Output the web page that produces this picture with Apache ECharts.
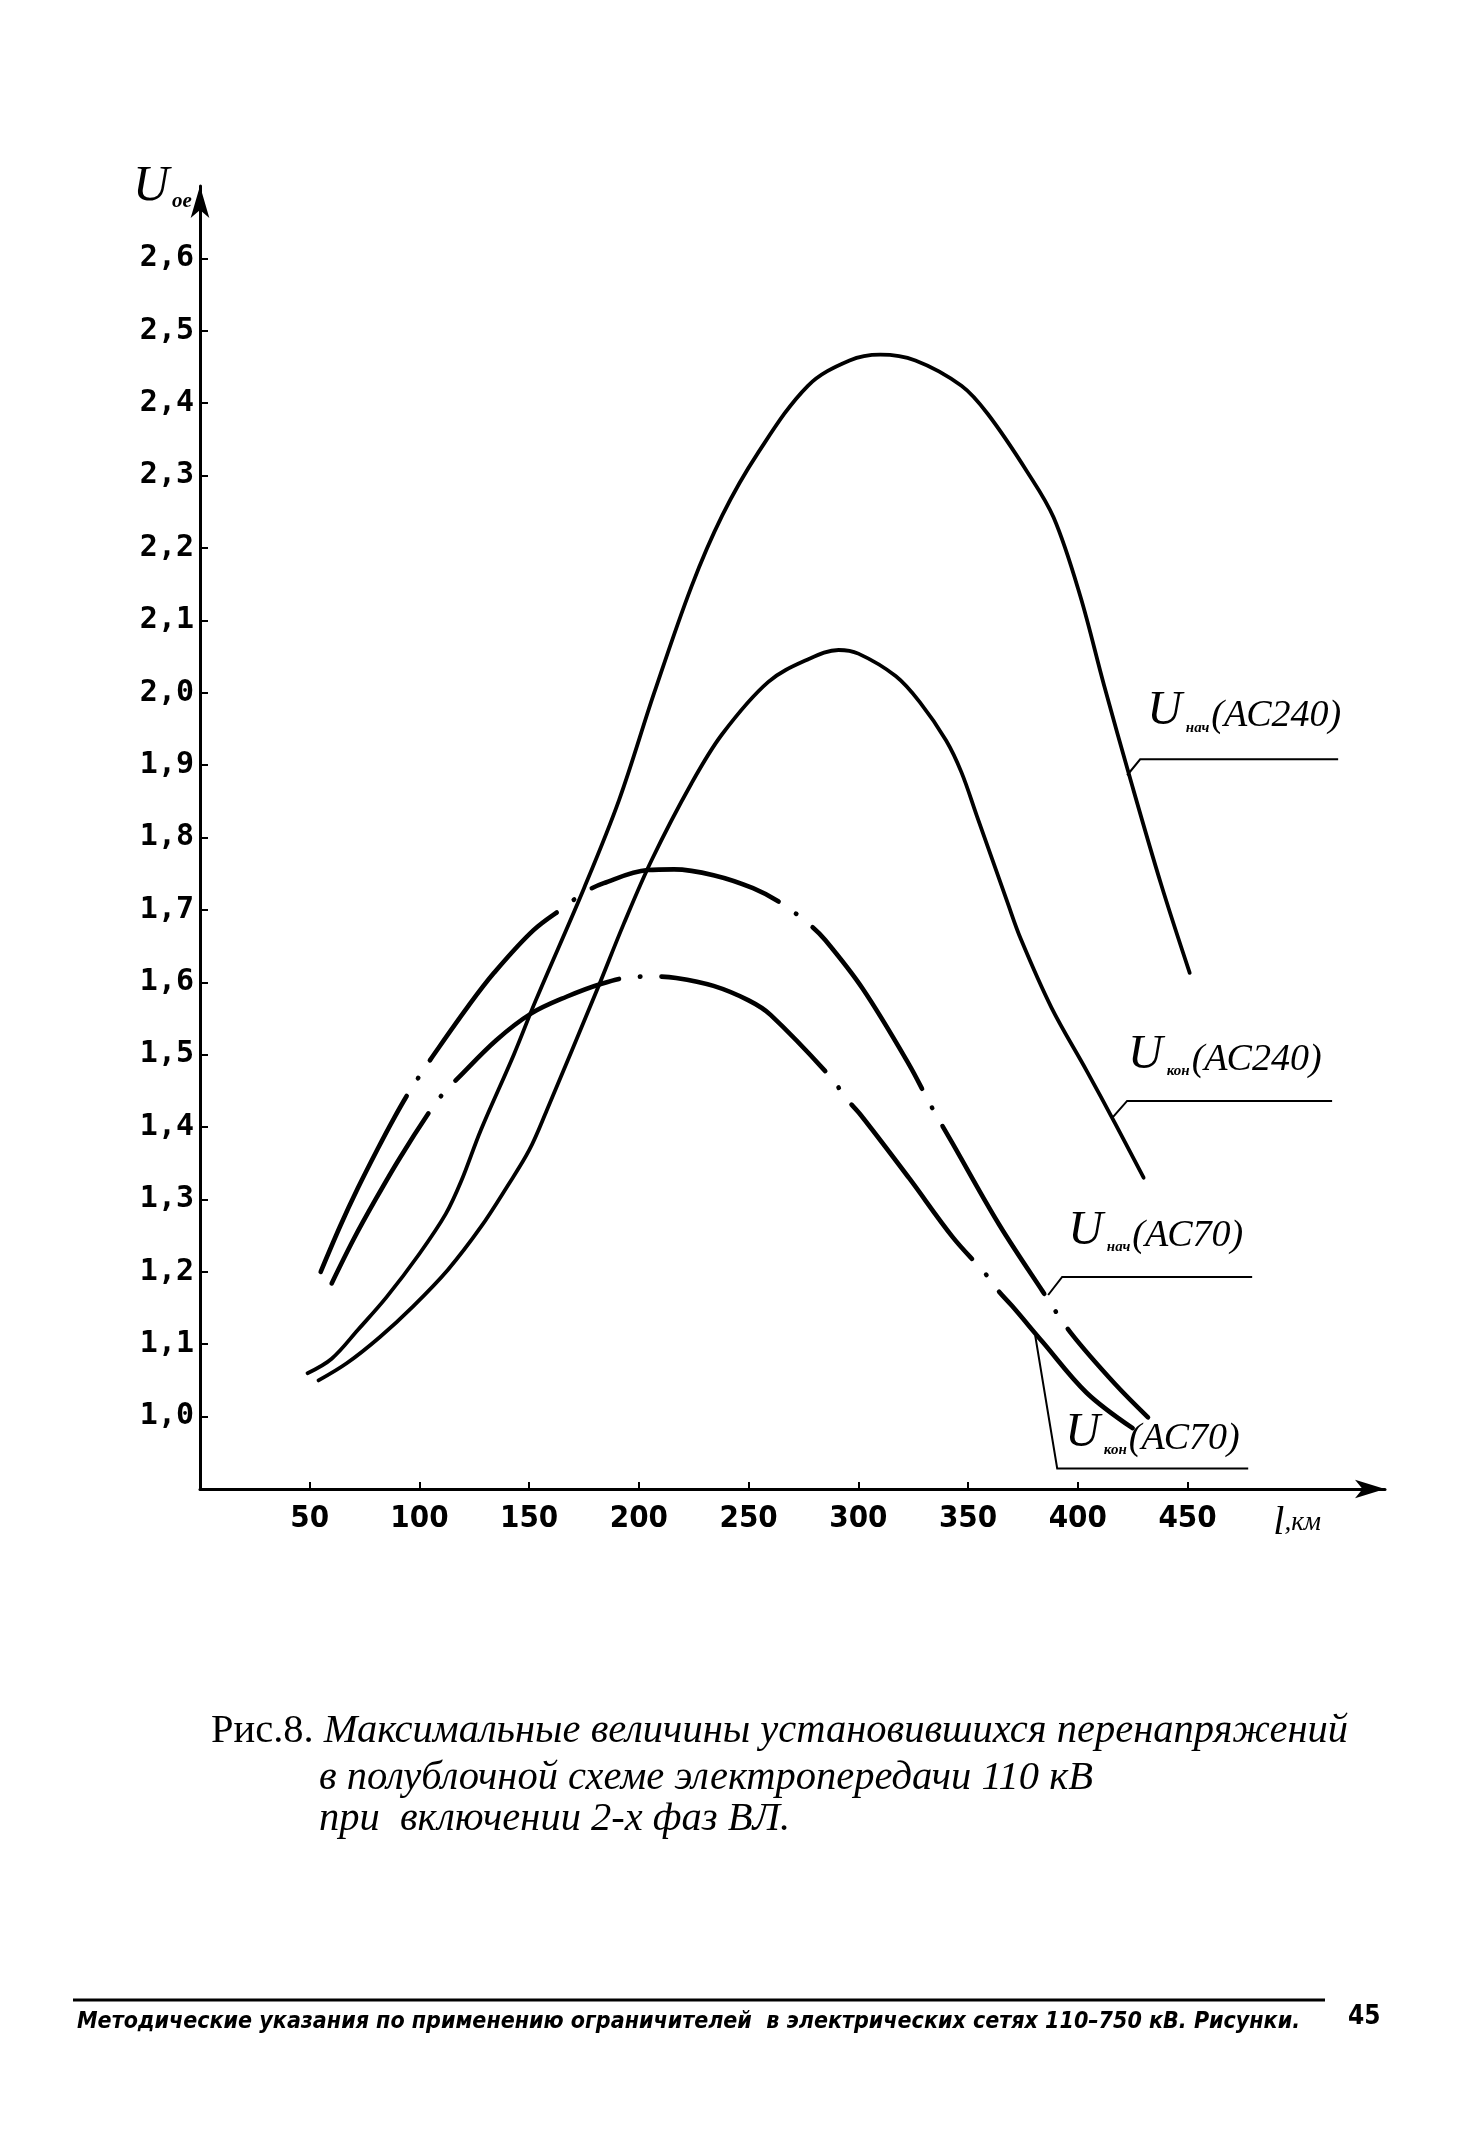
<!DOCTYPE html>
<html><head><meta charset="utf-8">
<script src="https://cdn.jsdelivr.net/npm/echarts@6/dist/echarts.min.js"></script>
<style>html,body{margin:0;padding:0;background:#fff}#c{width:1480px;height:2146px}</style>
</head><body><div id="c"></div>
<script>
// ---- data ----
const xTickValues = [50, 100, 150, 200, 250, 300, 350, 400, 450];
const xNameValue = 500;
const yTickValues = [1.0, 1.1, 1.2, 1.3, 1.4, 1.5, 1.6, 1.7, 1.8, 1.9, 2.0, 2.1, 2.2, 2.3, 2.4, 2.5, 2.6];

const kmNachAC240 = [49, 60, 72, 85, 100, 112, 119, 128, 143, 153, 175, 191, 207, 224, 238, 254, 277, 296, 310, 326, 347, 359, 377, 389, 401, 412, 424, 438, 451];
const uNachAC240  = [1.06, 1.08, 1.12, 1.165, 1.225, 1.28, 1.325, 1.396, 1.50, 1.575, 1.73, 1.852, 2.0, 2.147, 2.245, 2.33, 2.424, 2.459, 2.467, 2.459, 2.424, 2.385, 2.305, 2.242, 2.135, 2.01, 1.88, 1.735, 1.613];

const kmKonAC240 = [54, 67, 82, 97, 113, 128, 140, 150, 158, 181, 193, 206, 224, 238, 259, 277, 291, 300, 317, 328, 340, 347, 354, 368, 374, 388, 404, 417, 430];
const uKonAC240  = [1.05, 1.074, 1.11, 1.152, 1.203, 1.262, 1.318, 1.368, 1.423, 1.59, 1.68, 1.77, 1.875, 1.943, 2.015, 2.046, 2.059, 2.054, 2.023, 1.987, 1.934, 1.89, 1.83, 1.71, 1.66, 1.565, 1.478, 1.405, 1.33];

const kmNachAC70 = [55, 64, 72, 81, 88, 95, 101, 107, 122, 134, 152, 167, 175, 184, 204, 216, 234, 252, 265, 278, 285, 302, 323, 333, 343, 364, 384, 397, 417, 432];
const uNachAC70  = [1.20, 1.264, 1.316, 1.370, 1.41, 1.447, 1.475, 1.502, 1.566, 1.613, 1.672, 1.706, 1.724, 1.737, 1.755, 1.756, 1.748, 1.73, 1.709, 1.679, 1.658, 1.591, 1.487, 1.43, 1.377, 1.266, 1.173, 1.115, 1.045, 0.999];

const kmKonAC70 = [60, 70, 80, 91, 105, 111, 118, 135, 151, 167, 183, 196, 206, 217, 234, 250, 260, 288, 294, 301, 323, 343, 358, 364, 370, 384, 404, 425];
const uKonAC70  = [1.184, 1.245, 1.30, 1.357, 1.423, 1.447, 1.469, 1.52, 1.557, 1.58, 1.598, 1.607, 1.608, 1.606, 1.595, 1.575, 1.555, 1.467, 1.441, 1.417, 1.33, 1.248, 1.197, 1.173, 1.153, 1.103, 1.033, 0.984];

const seriesNames = ['нач(АС240)', 'кон(АС240)', 'нач(АС70)', 'кон(АС70)'];
// anchor points on each curve where the label leader starts [km, U]
const leaderAnchors = [[422.5, 1.886], [416.1, 1.414], [386.5, 1.168], [380.6, 1.112]];

// ---- chart ----
const pair = (xs, ys) => xs.map((x, i) => [x, ys[i]]);
const chart = echarts.init(document.getElementById('c'), null, {renderer: 'canvas'});
const serif = '"Liberation Serif", "Times New Roman", serif';
const narrow = '"Liberation Sans Narrow", "DejaVu Sans Condensed", "DejaVu Sans", sans-serif';
const dashDot = [196, 21, 0.5, 21];

function lineSeries(name, data, width, dashed) {
  return {
    name, type: 'line', data, smooth: 0.35, symbol: 'none', silent: true,
    lineStyle: {color: '#000', width, type: dashed ? dashDot : 'solid', cap: 'round', join: 'round'}
  };
}

chart.setOption({
  animation: false,
  backgroundColor: '#fff',
  grid: {left: 200, right: 95, top: 186, bottom: 657, containLabel: false},
  xAxis: {
    type: 'value', min: 0, max: 540,
    splitLine: {show: false},
    axisLine: {show: true, lineStyle: {color: '#000', width: 3}, symbol: ['none', 'arrow'], symbolSize: [14, 30]},
    axisTick: {show: true, inside: true, length: 7, lineStyle: {color: '#000', width: 2}, customValues: xTickValues},
    axisLabel: {
      customValues: xTickValues.concat([xNameValue]), margin: 14,
      color: '#000', fontFamily: narrow, fontWeight: 'bold', fontSize: 31,
      formatter: v => v === xNameValue ? '{l|l}{k|,км}' : String(v),
      rich: {
        l: {fontFamily: serif, fontStyle: 'italic', fontWeight: 'normal', fontSize: 40, color: '#000'},
        k: {fontFamily: serif, fontStyle: 'italic', fontWeight: 'normal', fontSize: 27, color: '#000'}
      }
    }
  },
  yAxis: {
    type: 'value', min: 0.9, max: 2.7,
    splitLine: {show: false},
    axisLine: {show: true, lineStyle: {color: '#000', width: 3}, symbol: ['none', 'arrow'], symbolSize: [14, 32]},
    axisTick: {show: true, inside: true, length: 8, lineStyle: {color: '#000', width: 2}, customValues: yTickValues},
    axisLabel: {
      customValues: yTickValues, margin: 6,
      color: '#000', fontFamily: '"DejaVu Sans Mono", monospace', fontWeight: 'bold', fontSize: 30,
      formatter: v => v.toFixed(1).replace('.', ',')
    }
  },
  series: [
    lineSeries(seriesNames[0], pair(kmNachAC240, uNachAC240), 3.8, false),
    lineSeries(seriesNames[1], pair(kmKonAC240, uKonAC240), 3.8, false),
    lineSeries(seriesNames[2], pair(kmNachAC70, uNachAC70), 4.6, true),
    lineSeries(seriesNames[3], pair(kmKonAC70, uKonAC70), 4.6, true)
  ]
});

// ---- annotations ----
const annoLayout = [
  {corner: [13, -16], endDx: 211, text: [20, -40]},
  {corner: [14, -16], endDx: 219, text: [15, -38]},
  {corner: [14, -18], endDx: 204, text: [20, -40]},
  {corner: [22, 133], endDx: 213, text: [30, 122]}
];
const richLbl = {
  u: {fontFamily: serif, fontStyle: 'italic', fontSize: 48, color: '#000', verticalAlign: 'bottom', lineHeight: 48},
  s: {fontFamily: serif, fontStyle: 'italic', fontWeight: 'bold', fontSize: 15, color: '#000', verticalAlign: 'bottom', lineHeight: 48, padding: [0, 2, 0, 4]},
  p: {fontFamily: serif, fontStyle: 'italic', fontSize: 38, color: '#000', verticalAlign: 'bottom', lineHeight: 48}
};
const graphics = [];
leaderAnchors.forEach((a, i) => {
  const p = chart.convertToPixel({gridIndex: 0}, a);
  const L = annoLayout[i];
  const c = [p[0] + L.corner[0], p[1] + L.corner[1]];
  graphics.push({type: 'polyline', silent: true,
    shape: {points: [p, c, [p[0] + L.endDx, c[1]]]},
    style: {stroke: '#000', lineWidth: 2, fill: null}});
  const nm = seriesNames[i];
  const k = nm.indexOf('(');
  graphics.push({type: 'text', silent: true, x: p[0] + L.text[0], y: p[1] + L.text[1],
    style: {text: '{u|U}{s|' + nm.slice(0, k) + '}{p|' + nm.slice(k) + '}', rich: richLbl, align: 'left', verticalAlign: 'bottom'}});
});
// y axis name
graphics.push({type: 'text', silent: true, x: 133, y: 212,
  style: {text: '{u|U}{s|oe}', align: 'left', verticalAlign: 'bottom',
    rich: {u: {fontFamily: serif, fontStyle: 'italic', fontSize: 50, color: '#000', verticalAlign: 'bottom', lineHeight: 50},
           s: {fontFamily: serif, fontStyle: 'italic', fontWeight: 'bold', fontSize: 21, color: '#000', verticalAlign: 'bottom', lineHeight: 50, padding: [0, 0, 0, 3]}}}});
// caption
const capRich = {
  n: {fontFamily: serif, fontSize: 40.5, color: '#000'},
  i: {fontFamily: serif, fontStyle: 'italic', fontSize: 40.5, color: '#000'}
};
graphics.push({type: 'text', silent: true, x: 211, y: 1752, style: {text: '{n|Рис.8. }{i|Максимальные величины установившихся перенапряжений}', rich: capRich, verticalAlign: 'bottom'}});
graphics.push({type: 'text', silent: true, x: 319, y: 1799, style: {text: '{i|в полублочной схеме электропередачи 110 кВ}', rich: capRich, verticalAlign: 'bottom'}});
graphics.push({type: 'text', silent: true, x: 319, y: 1840, style: {text: '{i|при  включении 2-х фаз ВЛ.}', rich: capRich, verticalAlign: 'bottom'}});
// footer
graphics.push({type: 'line', silent: true, shape: {x1: 73, y1: 2000, x2: 1325, y2: 2000}, style: {stroke: '#000', lineWidth: 3}});
graphics.push({type: 'text', silent: true, x: 77, y: 2034, style: {
  text: 'Методические указания по применению ограничителей  в электрических сетях 110–750 кВ. Рисунки.',
  font: 'italic bold 23px ' + narrow, fill: '#000', verticalAlign: 'bottom'}});
graphics.push({type: 'text', silent: true, x: 1348, y: 2030, style: {
  text: '45', font: 'bold 26px ' + narrow, fill: '#000', verticalAlign: 'bottom'}});

chart.setOption({graphic: graphics});
</script>
</body></html>
